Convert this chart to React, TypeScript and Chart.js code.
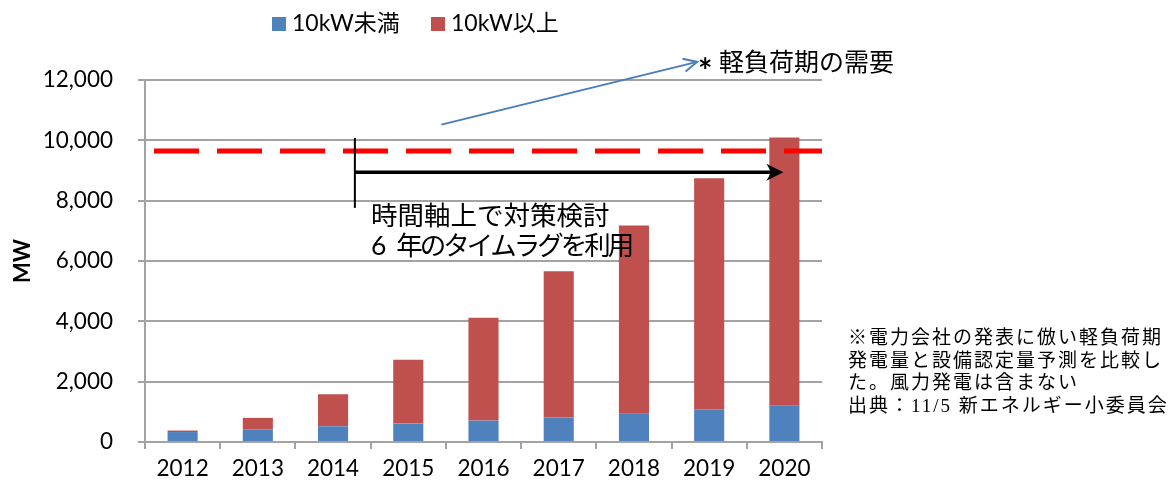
import React, { useEffect, useRef } from 'react';
import { Chart, registerables } from 'chart.js';

Chart.register(...registerables);

// ---- data ----
const YEARS = ['2012', '2013', '2014', '2015', '2016', '2017', '2018', '2019', '2020'];
const UNDER_10KW = [330, 420, 520, 610, 710, 810, 940, 1080, 1200];
const OVER_10KW = [50, 380, 1060, 2120, 3410, 4850, 6240, 7660, 8890];
const SERIES_LABELS = ['10kW未満', '10kW以上'];
const SERIES_COLORS = ['#4F81BD', '#C0504D'];
const Y_TICKS = [0, 2000, 4000, 6000, 8000, 10000, 12000];
const Y_TITLE = 'MW';

const DEMAND_LEVEL = 9650; // light-load demand (red dashed line)
const LAG_ARROW_LEVEL = 8940; // time-lag arrow
const LAG_TEXT = ['時間軸上で対策検討', '6 年のタイムラグを利用'];
const DEMAND_MARK = '*';
const DEMAND_LABEL = '軽負荷期の需要';
const NOTE_LINES = [
  '※電力会社の発表に倣い軽負荷期',
  '発電量と設備認定量予測を比較し',
  'た。風力発電は含まない',
  '出典：11/5 新エネルギー小委員会',
];

const SANS = "Lato, 'Noto Sans CJK JP', sans-serif";
const SERIF = "'Liberation Serif', 'Noto Sans CJK JP', serif";
const GRID = '#a3a3a3';

const overlayPlugin = {
  id: 'overlay',
  afterDatasetsDraw(chart: any) {
    const { ctx, chartArea, scales } = chart;
    const x = scales.x;
    const y = scales.y;
    ctx.save();

    // red dashed demand line
    const yd = y.getPixelForValue(DEMAND_LEVEL);
    ctx.strokeStyle = '#FF0000';
    ctx.lineWidth = 5;
    ctx.setLineDash([45, 18]);
    ctx.beginPath();
    ctx.moveTo(chartArea.left + 9, yd);
    ctx.lineTo(chartArea.right, yd);
    ctx.stroke();
    ctx.setLineDash([]);

    // time-lag arrow
    const catW = x.getPixelForValue(1) - x.getPixelForValue(0);
    const xs = x.getPixelForValue(2) + 0.29 * catW;
    const xe = x.getPixelForValue(8) - 1;
    const ya = y.getPixelForValue(LAG_ARROW_LEVEL);
    ctx.strokeStyle = '#000';
    ctx.lineWidth = 2;
    ctx.beginPath();
    ctx.moveTo(xs, y.getPixelForValue(10080));
    ctx.lineTo(xs, y.getPixelForValue(7760));
    ctx.stroke();
    ctx.lineWidth = 3.5;
    ctx.beginPath();
    ctx.moveTo(xs, ya);
    ctx.lineTo(xe - 10, ya);
    ctx.stroke();
    ctx.fillStyle = '#000';
    ctx.beginPath();
    ctx.moveTo(xe, ya);
    ctx.lineTo(xe - 17, ya - 8.5);
    ctx.lineTo(xe - 12, ya);
    ctx.lineTo(xe - 17, ya + 8.5);
    ctx.closePath();
    ctx.fill();

    // blue callout arrow to the demand label
    const bx0 = x.getPixelForValue(3) + 0.44 * catW;
    const by0 = y.getPixelForValue(10520);
    const bx1 = x.getPixelForValue(6) + 0.84 * catW;
    const by1 = y.getPixelForValue(12600);
    ctx.strokeStyle = '#4A7EBB';
    ctx.lineWidth = 2;
    ctx.beginPath();
    ctx.moveTo(bx0, by0);
    ctx.lineTo(bx1, by1);
    ctx.stroke();
    const ang = Math.atan2(by1 - by0, bx1 - bx0);
    const hl = 15;
    ctx.beginPath();
    ctx.moveTo(bx1 - hl * Math.cos(ang - 0.45), by1 - hl * Math.sin(ang - 0.45));
    ctx.lineTo(bx1, by1);
    ctx.lineTo(bx1 - hl * Math.cos(ang + 0.45), by1 - hl * Math.sin(ang + 0.45));
    ctx.stroke();

    // texts
    ctx.fillStyle = '#000';
    ctx.textBaseline = 'middle';
    ctx.textAlign = 'left';
    ctx.font = `bold 34px ${SANS}`;
    ctx.fillText(DEMAND_MARK, 698, 72);
    ctx.font = `25px ${SANS}`;
    ctx.fillText(DEMAND_LABEL, 719, 63);

    ctx.font = `26.5px ${SANS}`;
    ctx.fillText(LAG_TEXT[0], 371, 216);
    // second line: keep the gap after the numeral, tighten the kana
    const sp = LAG_TEXT[1].indexOf(' ');
    const head = LAG_TEXT[1].slice(0, sp + 1);
    const tail = LAG_TEXT[1].slice(sp + 1);
    ctx.fillText(head, 371, 246);
    const headW = ctx.measureText(head).width + 3;
    (ctx as any).letterSpacing = '-3px';
    ctx.fillText(tail, 371 + headW, 246);
    (ctx as any).letterSpacing = '0px';

    ctx.font = `19px ${SERIF}`;
    (ctx as any).letterSpacing = '2px';
    NOTE_LINES.forEach((t, i) => ctx.fillText(t, 848, 339 + i * 22.7));
    (ctx as any).letterSpacing = '0px';

    // legend
    ctx.font = `23px ${SANS}`;
    const legendX = [272, 431];
    chart.data.datasets.forEach((ds: any, i: number) => {
      ctx.fillStyle = ds.backgroundColor;
      ctx.fillRect(legendX[i], 17, 14, 14);
      ctx.fillStyle = '#000';
      ctx.fillText(ds.label, legendX[i] + 20, 24);
    });

    ctx.restore();
  },
};

export default function App() {
  const ref = useRef<HTMLCanvasElement | null>(null);

  useEffect(() => {
    if (!ref.current) return;
    const chart = new Chart(ref.current, {
      type: 'bar',
      data: {
        labels: YEARS,
        datasets: [
          {
            label: SERIES_LABELS[0],
            data: UNDER_10KW,
            backgroundColor: SERIES_COLORS[0],
            barPercentage: 0.4,
            categoryPercentage: 1,
          },
          {
            label: SERIES_LABELS[1],
            data: OVER_10KW,
            backgroundColor: SERIES_COLORS[1],
            barPercentage: 0.4,
            categoryPercentage: 1,
          },
        ],
      },
      options: {
        responsive: false,
        animation: false,
        devicePixelRatio: 1,
        layout: { padding: { left: 0, right: 352, top: 80, bottom: 0 } },
        plugins: {
          legend: { display: false },
          tooltip: { enabled: false },
        },
        scales: {
          x: {
            stacked: true,
            grid: {
              display: true,
              drawOnChartArea: false,
              drawTicks: true,
              tickLength: 7,
              color: GRID,
              lineWidth: 2,
              offset: true,
            },
            border: { display: true, color: GRID, width: 2 },
            ticks: {
              color: '#000',
              font: { family: SANS, size: 22.5 },
              padding: 6,
              maxRotation: 0,
            },
            afterFit: (s: any) => {
              s.height = 44;
            },
          },
          y: {
            stacked: true,
            min: 0,
            max: 12000,
            afterBuildTicks: (s: any) => {
              s.ticks = Y_TICKS.map((v) => ({ value: v }));
            },
            ticks: {
              color: '#000',
              font: { family: SANS, size: 22.5 },
              padding: 25,
              callback: (v: any) => Number(v).toLocaleString('en-US'),
            },
            grid: { color: GRID, lineWidth: 2, tickLength: 7 },
            border: { display: true, color: GRID, width: 2 },
            title: {
              display: true,
              text: Y_TITLE,
              color: '#000',
              font: { family: SANS, size: 22, weight: 'bold' },
              padding: { top: 10, bottom: 0 },
            },
            afterFit: (s: any) => {
              s.width = 145;
            },
          },
        },
      },
      plugins: [overlayPlugin],
    });
    return () => chart.destroy();
  }, []);

  return (
    <div style={{ position: 'fixed', left: 0, top: 0, width: 1174, height: 486, background: '#fff' }}>
      <canvas ref={ref} width={1174} height={486} style={{ width: 1174, height: 486, display: 'block' }} />
    </div>
  );
}
